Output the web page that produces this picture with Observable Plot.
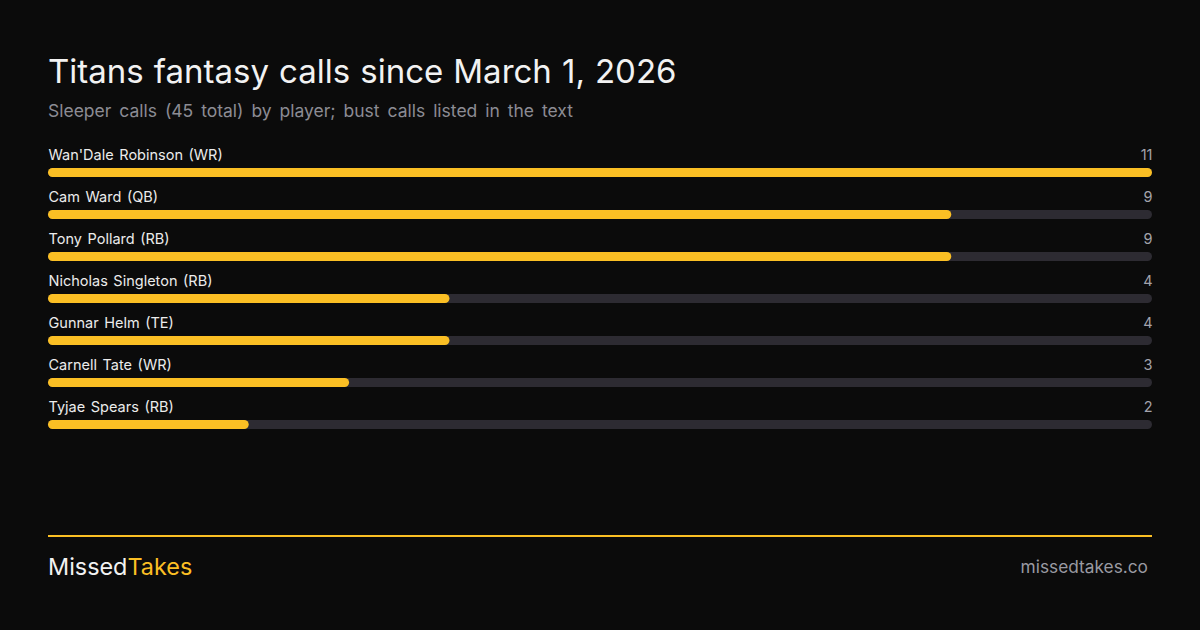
<!DOCTYPE html>
<html>
<head>
<meta charset="utf-8">
<script src="https://cdn.jsdelivr.net/npm/d3@7"></script>
<script src="https://cdn.jsdelivr.net/npm/@observablehq/plot@0.6"></script>
<style>
  html, body { margin: 0; padding: 0; background: #0b0b0b; }
  #page { position: relative; width: 1200px; height: 630px; background: #0b0b0b; font-family: Inter, Roboto, sans-serif; overflow: hidden; }
  #title { position: absolute; left: 48px; top: 51px; font-size: 33px; color: #f2f2f2; font-weight: 400; white-space: nowrap; word-spacing: 0.8px; }
  #subtitle { position: absolute; left: 48px; top: 100px; font-size: 17.5px; color: #8c8c94; white-space: nowrap; word-spacing: 3px; }
  #chart { position: absolute; left: 0; top: 140px; }
  #rule { position: absolute; left: 48px; width: 1104px; top: 535px; height: 2px; background: #fbbf24; }
  #brand { position: absolute; left: 48px; top: 552px; font-size: 23.4px; color: #f2f2f2; white-space: nowrap; }
  #brand span { color: #fbbf24; }
  #site { position: absolute; right: 52px; top: 556px; font-size: 17.3px; color: #9a9aa2; white-space: nowrap; }
</style>
</head>
<body>
<div id="page">
  <div id="title">Titans fantasy calls since March 1, 2026</div>
  <div id="subtitle">Sleeper calls (45 total) by player; bust calls listed in the text</div>
  <div id="chart"></div>
  <div id="rule"></div>
  <div id="brand">Missed<span>Takes</span></div>
  <div id="site">missedtakes.co</div>
</div>
<script>
const players = ["Wan'Dale Robinson (WR)", "Cam Ward (QB)", "Tony Pollard (RB)", "Nicholas Singleton (RB)", "Gunnar Helm (TE)", "Carnell Tate (WR)", "Tyjae Spears (RB)"];
const calls = [11, 9, 9, 4, 4, 3, 2];
const maxCalls = 11;

const data = players.map((p, i) => ({player: p, calls: calls[i], max: maxCalls}));

const chart = Plot.plot({
  width: 1200,
  height: 294,
  marginLeft: 48,
  marginRight: 48,
  marginTop: 0,
  marginBottom: 0,
  style: {background: "transparent", fontFamily: "Inter, Roboto, sans-serif", wordSpacing: "1.5px"},
  x: {domain: [0, maxCalls], axis: null},
  y: {domain: players, axis: null, padding: 0},
  marks: [
    Plot.barX(data, {y: "player", x1: 0, x2: "max", fill: "#2d2b32", insetTop: 28, insetBottom: 5, rx: 4.5}),
    Plot.barX(data, {y: "player", x1: 0, x2: "calls", fill: "#fbbf24", insetTop: 28, insetBottom: 5, rx: 4.5}),
    Plot.text(data, {y: "player", text: "player", frameAnchor: "left", textAnchor: "start", lineAnchor: "bottom", dy: -2, fill: "#ececec", fontSize: 14.5}),
    Plot.text(data, {y: "player", text: d => String(d.calls), frameAnchor: "right", textAnchor: "end", lineAnchor: "bottom", dy: -2, fill: "#a3a3ab", fontSize: 14.5})
  ]
});
document.getElementById("chart").appendChild(chart);
</script>
</body>
</html>
